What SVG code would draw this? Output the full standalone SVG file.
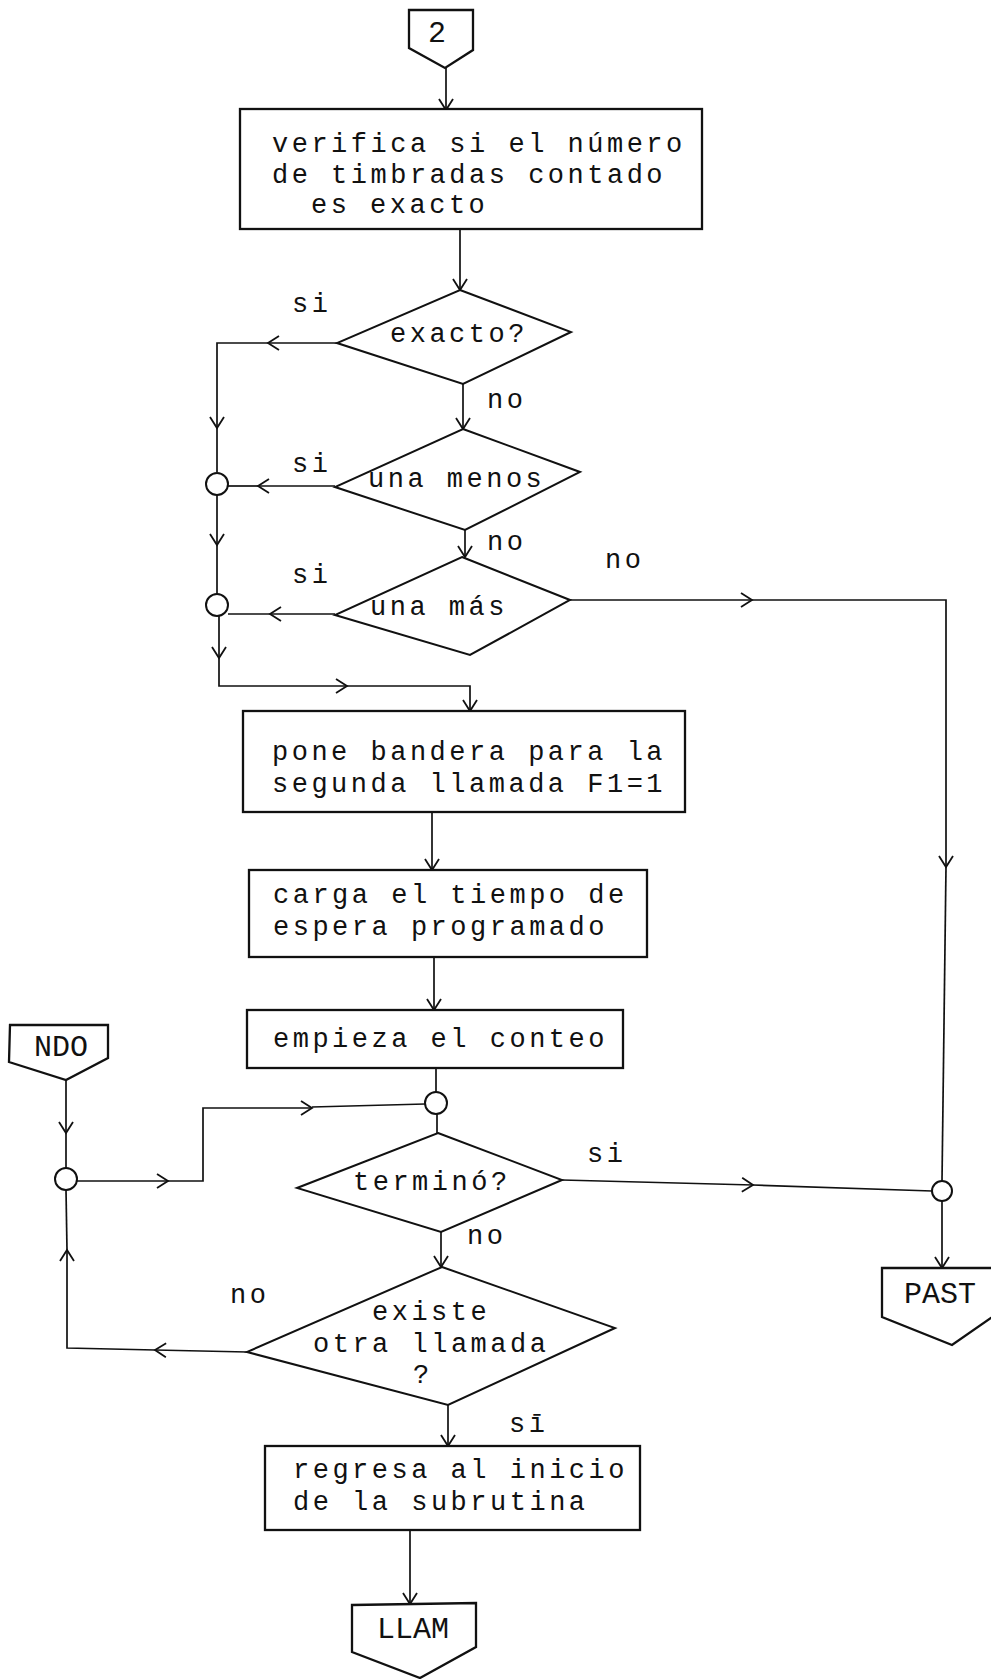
<svg xmlns="http://www.w3.org/2000/svg" width="991" height="1679" viewBox="0 0 991 1679">
<defs>
<style>
.t{font-family:"Liberation Mono","DejaVu Sans Mono",monospace;font-size:27px;letter-spacing:3.5px;fill:#111}
.c{font-family:"Liberation Mono","DejaVu Sans Mono",monospace;font-size:30px;fill:#111}
.box{fill:#fff;stroke:#111;stroke-width:2.3}
.dia{fill:#fff;stroke:#111;stroke-width:2}
.ln{fill:none;stroke:#111;stroke-width:1.7}
.ln2{fill:none;stroke:#111;stroke-width:1.7;marker-end:url(#chev)}
.cir{fill:#fff;stroke:#111;stroke-width:2}
</style>
<marker id="chev" viewBox="-14 -10 16 20" markerWidth="16" markerHeight="20" refX="0" refY="0" orient="auto" markerUnits="userSpaceOnUse">
<path d="M-11,-7 L0,0 L-11,7" fill="none" stroke="#111" stroke-width="1.8"/>
</marker>
</defs>
<rect width="991" height="1679" fill="#fff"/>

<g id="connectors">
<path class="ln2" d="M446,68 V110"/>
<path class="ln2" d="M460,229 V290"/>
<path class="ln2" d="M337,343 H268"/>
<path class="ln2" d="M268,343 H217 V428"/>
<path class="ln" d="M217,428 V472"/>
<path class="ln2" d="M463,384 V429"/>
<path class="ln2" d="M335,486 H258"/>
<path class="ln" d="M258,486 H228"/>
<path class="ln2" d="M217,495 V545"/>
<path class="ln" d="M217,545 V594"/>
<path class="ln2" d="M465,530 V557"/>
<path class="ln2" d="M335,614 H270"/>
<path class="ln" d="M270,614 H228"/>
<path class="ln2" d="M219,616 V658"/>
<path class="ln2" d="M219,658 V686 H347"/>
<path class="ln2" d="M347,686 H470 V711"/>
<path class="ln2" d="M570,600 H752"/>
<path class="ln2" d="M752,600 H946 V867"/>
<path class="ln" d="M946,867 L942,1181"/>
<path class="ln2" d="M432,812 V870"/>
<path class="ln2" d="M434,957 V1010"/>
<path class="ln" d="M436,1068 V1092"/>
<path class="ln" d="M437,1114 V1133"/>
<path class="ln2" d="M66,1080 V1133"/>
<path class="ln" d="M66,1133 V1168"/>
<path class="ln2" d="M77,1181 H168"/>
<path class="ln2" d="M168,1181 H203 V1108 H312"/>
<path class="ln" d="M312,1107 L425,1104"/>
<path class="ln2" d="M562,1180 L753,1185"/>
<path class="ln" d="M753,1185 L932,1191"/>
<path class="ln2" d="M942,1201 V1268"/>
<path class="ln2" d="M441,1232 V1267"/>
<path class="ln2" d="M247,1352 L155,1350"/>
<path class="ln2" d="M155,1350 L67,1348 V1250"/>
<path class="ln" d="M67,1250 L66,1190"/>
<path class="ln2" d="M448,1405 V1446"/>
<path class="ln2" d="M410,1530 V1604"/>
</g>

<g id="n-2">
<polygon class="box" points="409,10 473,10 473,50 445,68 409,48"/>
<text class="c" x="437" y="42" text-anchor="middle">2</text>
</g>

<g id="n-verifica">
<rect class="box" x="240" y="109" width="462" height="120"/>
<text class="t" x="272" y="152">verifica si el número</text>
<text class="t" x="272" y="183">de timbradas contado</text>
<text class="t" x="311" y="213">es exacto</text>
</g>

<g id="n-exacto">
<polygon class="dia" points="460,290 571,332 463,384 337,343"/>
<text class="t" x="390" y="342">exacto?</text>
</g>

<g id="n-menos">
<polygon class="dia" points="463,429 580,472 465,530 335,487"/>
<text class="t" x="368" y="487">una menos</text>
</g>

<g id="n-mas">
<polygon class="dia" points="462,557 570,600 470,655 335,615"/>
<text class="t" x="370" y="615">una más</text>
</g>

<g id="j1"><circle class="cir" cx="217" cy="484" r="11"/></g>
<g id="j2"><circle class="cir" cx="217" cy="605" r="11"/></g>

<g id="n-pone">
<rect class="box" x="243" y="711" width="442" height="101"/>
<text class="t" x="272" y="760">pone bandera para la</text>
<text class="t" x="272" y="792">segunda llamada F1=1</text>
</g>

<g id="n-carga">
<rect class="box" x="249" y="870" width="398" height="87"/>
<text class="t" x="273" y="903">carga el tiempo de</text>
<text class="t" x="273" y="935">espera programado</text>
</g>

<g id="n-empieza">
<rect class="box" x="247" y="1010" width="376" height="58"/>
<text class="t" x="273" y="1047">empieza el conteo</text>
</g>

<g id="j3"><circle class="cir" cx="436" cy="1103" r="11"/></g>

<g id="n-NDO">
<polygon class="box" points="10,1025 108,1025 108,1058 66,1080 9,1062"/>
<text class="c" x="61" y="1056" text-anchor="middle">NDO</text>
</g>

<g id="j4"><circle class="cir" cx="66" cy="1179" r="11"/></g>

<g id="n-termino">
<polygon class="dia" points="438,1133 562,1180 441,1232 297,1188"/>
<text class="t" x="353" y="1190">terminó?</text>
</g>

<g id="j5"><circle class="cir" cx="942" cy="1191" r="10"/></g>

<g id="n-PAST">
<polygon class="box" points="882,1268 995,1268 995,1315 952,1345 882,1317"/>
<text class="c" x="940" y="1303" text-anchor="middle">PAST</text>
</g>

<g id="n-existe">
<polygon class="dia" points="442,1267 615,1328 448,1405 247,1352"/>
<text class="t" x="372" y="1320">existe</text>
<text class="t" x="313" y="1352">otra llamada</text>
<text class="t" x="413" y="1383">?</text>
</g>

<g id="n-regresa">
<rect class="box" x="265" y="1446" width="375" height="84"/>
<text class="t" x="293" y="1478">regresa al inicio</text>
<text class="t" x="293" y="1510">de la subrutina</text>
</g>

<g id="n-LLAM">
<polygon class="box" points="352,1605 476,1603 476,1647 420,1678 352,1652"/>
<text class="c" x="413" y="1638" text-anchor="middle">LLAM</text>
</g>

<g id="labels">
<text class="t" x="292" y="312">si</text>
<text class="t" x="487" y="408">no</text>
<text class="t" x="292" y="472">si</text>
<text class="t" x="487" y="550">no</text>
<text class="t" x="292" y="583">si</text>
<text class="t" x="605" y="568">no</text>
<text class="t" x="587" y="1162">si</text>
<text class="t" x="467" y="1244">no</text>
<text class="t" x="230" y="1303">no</text>
<text class="t" x="509" y="1432">sī</text>
</g>
</svg>
